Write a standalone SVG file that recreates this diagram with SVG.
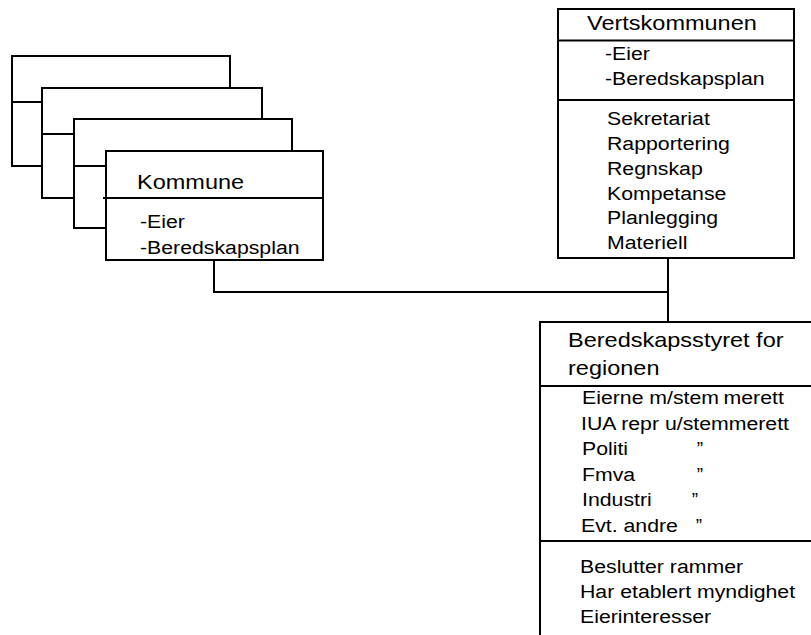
<svg xmlns="http://www.w3.org/2000/svg" width="811" height="635" viewBox="0 0 811 635">
<style>
.box{fill:#fff;stroke:#000;stroke-width:2}
.ln{fill:none;stroke:#000;stroke-width:2}
text{font-family:"Liberation Sans",Arial,sans-serif;fill:#000}
.t{font-size:21px}
.b{font-size:19px}
</style>
<rect width="811" height="635" fill="#fff"/>
<g id="kommune-stack-1">
<rect class="box" x="12" y="56" width="218" height="110"/>
<line class="ln" x1="12" y1="102" x2="230" y2="102"/>
</g>
<g id="kommune-stack-2">
<rect class="box" x="42" y="88" width="220" height="110"/>
<line class="ln" x1="42" y1="134" x2="262" y2="134"/>
</g>
<g id="kommune-stack-3">
<rect class="box" x="74" y="119" width="218" height="109"/>
<line class="ln" x1="74" y1="166" x2="292" y2="166"/>
</g>
<g id="kommune">
<rect class="box" x="106" y="151" width="217" height="109"/>
<line class="ln" x1="103" y1="198" x2="323" y2="198"/>
<text class="t" transform="translate(137 189) scale(1.12 1)">Kommune</text>
<text class="b" transform="translate(140 228) scale(1.12 1)">-Eier</text>
<text class="b" transform="translate(140 254) scale(1.12 1)">-Beredskapsplan</text>
</g>
<g id="vertskommunen">
<rect class="box" x="558" y="9" width="236" height="249"/>
<line class="ln" x1="558" y1="40.5" x2="794" y2="40.5"/>
<line class="ln" x1="558" y1="100" x2="794" y2="100"/>
<text class="t" transform="translate(587 30) scale(1.12 1)">Vertskommunen</text>
<text class="b" transform="translate(605 60) scale(1.12 1)">-Eier</text>
<text class="b" transform="translate(605 85) scale(1.12 1)">-Beredskapsplan</text>
<text class="b" transform="translate(607 125) scale(1.12 1)">Sekretariat</text>
<text class="b" transform="translate(607 150) scale(1.12 1)">Rapportering</text>
<text class="b" transform="translate(607 175) scale(1.12 1)">Regnskap</text>
<text class="b" transform="translate(607 200) scale(1.12 1)">Kompetanse</text>
<text class="b" transform="translate(607 224) scale(1.12 1)">Planlegging</text>
<text class="b" transform="translate(607 249) scale(1.12 1)">Materiell</text>
</g>
<g id="beredskapsstyret">
<path class="box" d="M 822 322 H 540 V 640 H 822 Z"/>
<line class="ln" x1="540" y1="386" x2="822" y2="386"/>
<line class="ln" x1="540" y1="541" x2="822" y2="541"/>
<text class="t" transform="translate(568 347) scale(1.12 1)">Beredskapsstyret for</text>
<text class="t" transform="translate(568 375) scale(1.12 1)">regionen</text>
<text class="b" transform="translate(582 404) scale(1.12 1)">Eierne m/stem<tspan dx="4">merett</tspan></text>
<text class="b" transform="translate(581 430) scale(1.12 1)">IUA repr u/stemmerett</text>
<text class="b" transform="translate(582 455) scale(1.12 1)">Politi</text>
<text class="b" transform="translate(582 481) scale(1.12 1)">Fmva</text>
<text class="b" transform="translate(582 506) scale(1.12 1)">Industri</text>
<text class="b" transform="translate(581 532) scale(1.12 1)">Evt. andre</text>
<text class="b" text-anchor="middle" x="700" y="455">”</text>
<text class="b" text-anchor="middle" x="700" y="481">”</text>
<text class="b" text-anchor="middle" x="695" y="506">”</text>
<text class="b" text-anchor="middle" x="699" y="532">”</text>
<text class="b" transform="translate(580 573) scale(1.12 1)">Beslutter rammer</text>
<text class="b" transform="translate(580 598) scale(1.12 1)">Har etablert myndighet</text>
<text class="b" transform="translate(580 623) scale(1.12 1)">Eierinteresser</text>
</g>
<g id="connectors">
<polyline class="ln" points="214,260 214,292 668,292"/>
<line class="ln" x1="668" y1="258" x2="668" y2="322"/>
</g>
</svg>
